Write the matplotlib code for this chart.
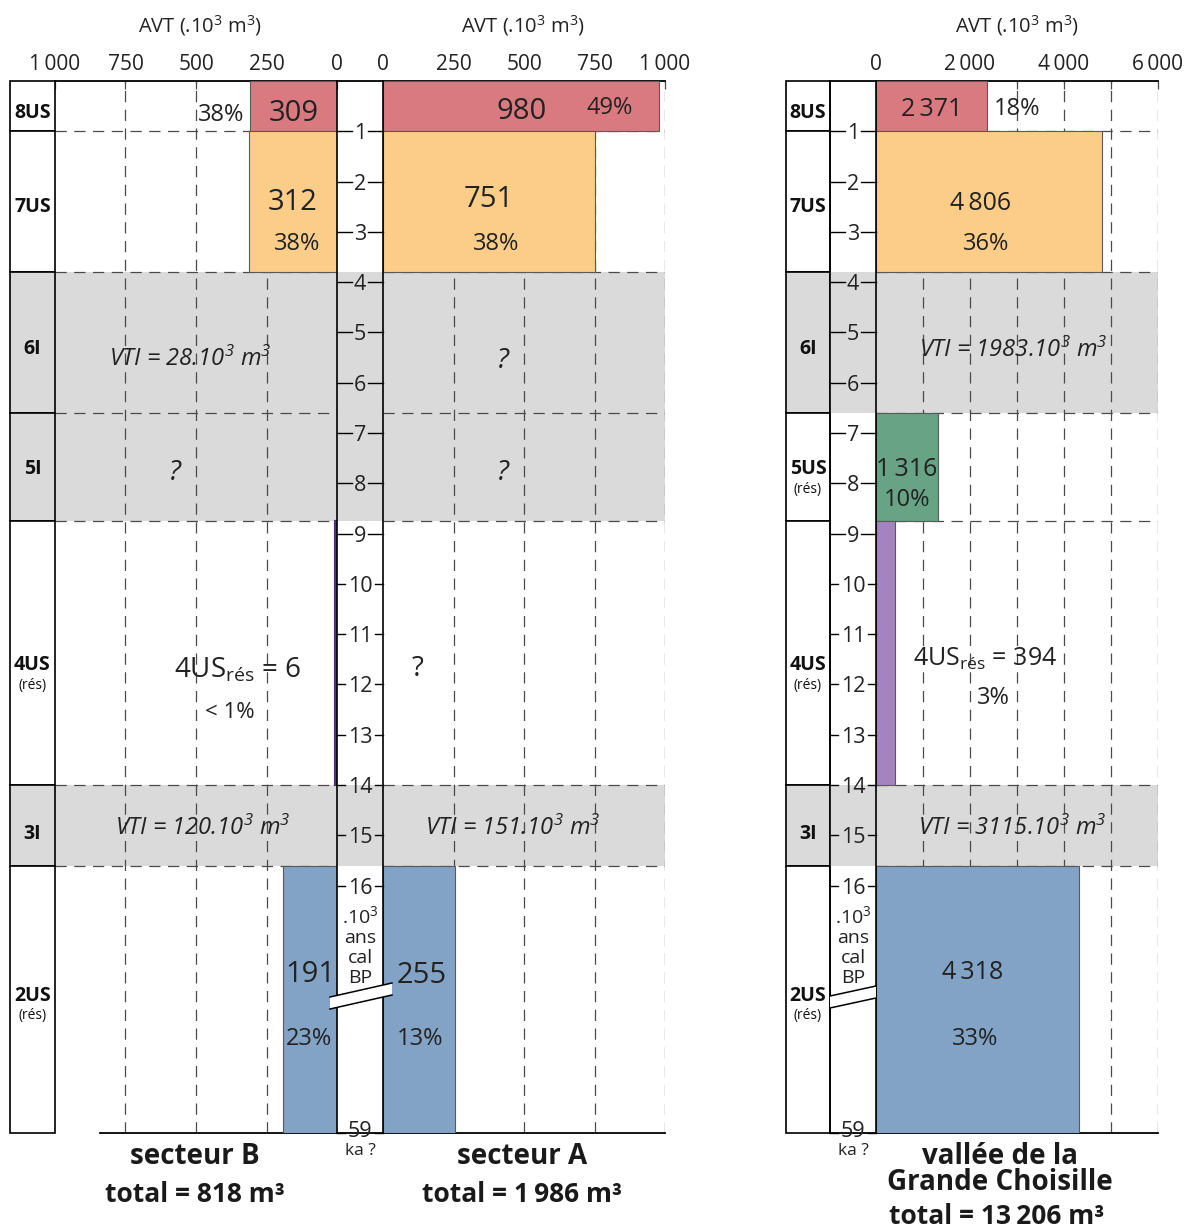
import matplotlib
matplotlib.use('Agg')
import matplotlib.pyplot as plt
from matplotlib.patches import Rectangle, Polygon

FONT = ['Open Sans', 'DejaVu Sans']
NARROW = ['Liberation Sans Narrow', 'Open Sans', 'DejaVu Sans']
plt.rcParams['font.family'] = FONT
plt.rcParams['mathtext.fontset'] = 'custom'
plt.rcParams['mathtext.rm'] = 'Open Sans'
plt.rcParams['mathtext.it'] = 'Open Sans:italic'
plt.rcParams['mathtext.bf'] = 'Open Sans:bold'
plt.rcParams['mathtext.default'] = 'regular'

# ------------------------------------------------------------------ data
layer_bounds_ka = [0, 1, 3.8, 6.6, 8.75, 14, 15.6, 59]
layers_left = ['8US', '7US', '6I', '5I', '4US', '3I', '2US']
layers_right = ['8US', '7US', '6I', '5US', '4US', '3I', '2US']
notes_left = ['', '', '', '', '(rés)', '', '(rés)']
notes_right = ['', '', '', '(rés)', '(rés)', '', '(rés)']
interglacial_left = [False, False, True, True, False, True, False]
interglacial_right = [False, False, True, False, False, True, False]

secteurB_avt = [309, 312, None, None, 6, None, 191]
secteurA_avt = [980, 751, None, None, None, None, 255]
vallee_avt = [2371, 4806, None, 1316, 394, None, 4318]
secteurB_pct = ['38%', '38%', None, None, '< 1%', None, '23%']
secteurA_pct = ['49%', '38%', None, None, None, None, '13%']
vallee_pct = ['18%', '36%', None, '10%', '3%', None, '33%']
secteurB_vti = [None, None, 28, '?', None, 120, None]
secteurA_vti = [None, None, '?', '?', None, 151, None]
vallee_vti = [None, None, 1983, None, None, 3115, None]
total_B, total_A, total_V = 818, 1986, 13206

time_ticks = list(range(1, 17))
time_bottom = 59
secteur_ticks = [0, 250, 500, 750, 1000]
secteur_ticklabels = ['0', '250', '500', '750', '1\u2009000']
vallee_ticks = [0, 1000, 2000, 3000, 4000, 5000, 6000]
vallee_ticklabels = ['0', '', '2\u2009000', '', '4\u2009000', '', '6\u2009000']

# ------------------------------------------------------------------ style
GRAY = '#dadada'
DASHC = '#4a4a4a'
DASH = (0, (9, 6))
EDGE = '#5a5a5a'
COL = {'8US': '#d97a81', '7US': '#fccd88', '5US': '#67a384',
       '4US': '#a384c0', '2US': '#82a3c5'}
COL_B4US = '#5b2c86'
TXT = '#222222'

W, H = 1188, 1232
TOP, BOT = 81, 1133
TS = 50.29
YMAX = (BOT - TOP) / TS


def pos(ka):
    if ka <= 16:
        return ka
    return 16 + (ka - 16) * (YMAX - 16) / (59 - 16)


def ty(ypx):
    return (ypx - TOP) / TS


def fmt(v):
    return f'{v:,}'.replace(',', '\u2009')


def vti(v):
    return f'VTI = {v}.10$^3$ m$^3$'


fig = plt.figure(figsize=(W / 100, H / 100), dpi=100)


def make_ax(x0, x1):
    ax = fig.add_axes([x0 / W, 1 - BOT / H, (x1 - x0) / W, (BOT - TOP) / H])
    ax.set_ylim(YMAX, 0)
    ax.set_yticks([])
    for s in ax.spines.values():
        s.set_visible(False)
    ax.patch.set_visible(False)
    return ax


def draw_panel(ax, xlim, gridx, avt, inter, names, ticks, ticklabels,
               special=None, bottom_bounds=None):
    ax.set_xlim(*xlim)
    b = layer_bounds_ka
    for i in range(len(names)):
        if inter[i]:
            ax.axhspan(pos(b[i]), pos(b[i + 1]), fc=GRAY, lw=0, zorder=0)
    for g in gridx:
        ax.axvline(g, color=DASHC, lw=0.9, ls=DASH, zorder=1)
    for bb in b[1:-1]:
        ax.axhline(pos(bb), color=DASHC, lw=0.9, ls=DASH, zorder=1)
    for i, v in enumerate(avt):
        if v:
            c = COL[names[i]]
            ec, lw = EDGE, 0.8
            if special and names[i] in special:
                c = special[names[i]]
                ec, lw = c, 1.6
            ax.barh(pos(b[i]), v, height=pos(b[i + 1]) - pos(b[i]), left=0,
                    align='edge', color=c, edgecolor=ec, lw=lw, zorder=3)
    ax.spines['top'].set_visible(True)
    ax.spines['top'].set_linewidth(1.3)
    ax.spines['bottom'].set_visible(True)
    ax.spines['bottom'].set_linewidth(1.3)
    if bottom_bounds:
        ax.spines['bottom'].set_bounds(*bottom_bounds)
    ax.xaxis.set_ticks_position('top')
    ax.set_xticks(ticks)
    ax.set_xticklabels(ticklabels)
    ax.tick_params(axis='x', direction='in', length=6, width=0.9,
                   color=DASHC, labelsize=15, pad=4.5, labelcolor=TXT)


def label(ax, x, ypx, s, size, style='normal', **kw):
    ax.text(x, ty(ypx), s, fontsize=size, style=style, ha='center',
            va='center_baseline', zorder=5, color=TXT, **kw)


# ------------------------------------------------------------------ panels
axB = make_ax(55, 337)
draw_panel(axB, (1000, 0), [250, 500, 750], secteurB_avt, interglacial_left,
           layers_left, secteur_ticks, secteur_ticklabels,
           special={'4US': COL_B4US}, bottom_bounds=(0, 840))
axA = make_ax(383, 665)
draw_panel(axA, (0, 1000), [250, 500, 750, 1000], secteurA_avt,
           interglacial_left, layers_left, secteur_ticks, secteur_ticklabels)
axV = make_ax(876, 1158)
draw_panel(axV, (0, 6000), [1000, 2000, 3000, 4000, 5000, 6000], vallee_avt,
           interglacial_right, layers_right, vallee_ticks, vallee_ticklabels)

sub = '4US$_{rés}$ = '
# secteur B texts
label(axB, secteurB_avt[0] / 2, 110, fmt(secteurB_avt[0]), 21)
label(axB, 411, 112, secteurB_pct[0], 17)
label(axB, secteurB_avt[1] / 2, 199, fmt(secteurB_avt[1]), 21)
label(axB, 142, 241, secteurB_pct[1], 17)
label(axB, 521, 356, vti(secteurB_vti[2]), 17, 'italic')
label(axB, 574, 470, secteurB_vti[3], 20, 'italic')
label(axB, 351, 667, sub + fmt(secteurB_avt[4]), 20)
label(axB, 379, 710, secteurB_pct[4], 16)
label(axB, 475, 825, vti(secteurB_vti[5]), 17, 'italic')
label(axB, secteurB_avt[6] / 2, 971, fmt(secteurB_avt[6]), 21)
label(axB, 99, 1036, secteurB_pct[6], 17)
# secteur A texts
label(axA, secteurA_avt[0] / 2, 108, fmt(secteurA_avt[0]), 21)
label(axA, 805, 105, secteurA_pct[0], 17)
label(axA, secteurA_avt[1] / 2, 196, fmt(secteurA_avt[1]), 21)
label(axA, 400, 241, secteurA_pct[1], 17)
label(axA, 426, 358, secteurA_vti[2], 20, 'italic')
label(axA, 426, 470, secteurA_vti[3], 20, 'italic')
label(axA, 124, 665, '?', 20)
label(axA, 461, 825, vti(secteurA_vti[5]), 17, 'italic')
label(axA, 138, 972, fmt(secteurA_avt[6]), 21)
label(axA, 131, 1036, secteurA_pct[6], 17)
# vallee texts
label(axV, vallee_avt[0] / 2, 106, fmt(vallee_avt[0]), 18)
label(axV, 3000, 106, vallee_pct[0], 17)
label(axV, 2234, 201, fmt(vallee_avt[1]), 18)
label(axV, 2340, 241, vallee_pct[1], 17)
label(axV, 2915, 347, vti(vallee_vti[2]), 17, 'italic')
label(axV, vallee_avt[3] / 2, 466, fmt(vallee_avt[3]), 18)
label(axV, vallee_avt[3] / 2, 497, vallee_pct[3], 17)
label(axV, 2319, 656, sub + fmt(vallee_avt[4]), 18)
label(axV, 2489, 695, vallee_pct[4], 17)
label(axV, 2894, 825, vti(vallee_vti[5]), 17, 'italic')
label(axV, 2064, 969, fmt(vallee_avt[6]), 18)
label(axV, 2106, 1036, vallee_pct[6], 17)


# ------------------------------------------------------------------ label columns
def label_col(x0, x1, names, notes, inter, ypos):
    ax = make_ax(x0, x1)
    ax.set_xlim(0, 1)
    ax.set_xticks([])
    b = layer_bounds_ka
    for i, n in enumerate(names):
        y0, y1 = pos(b[i]), pos(b[i + 1])
        ax.add_patch(Rectangle((0, y0), 1, y1 - y0, fc=GRAY if inter[i] else 'white',
                               ec='black', lw=1.2, clip_on=False, zorder=1))
        ya, yb = ypos[i]
        ax.text(0.5, ty(ya), n, fontsize=14, weight='bold', ha='center',
                va='center_baseline', zorder=3, color='#111111')
        if notes[i]:
            ax.text(0.5, ty(yb), notes[i], fontsize=10, ha='center',
                    va='center_baseline', zorder=3, color='#111111')
    return ax


ylab = [(110, None), (204, None), (347, None), (467, 488), (662, 683),
        (831, None), (993, 1013)]
label_col(10, 55, layers_left, notes_left, interglacial_left, ylab)
label_col(786, 830, layers_right, notes_right, interglacial_right, ylab)


# ------------------------------------------------------------------ time columns
def time_col(x0, x1, inter):
    ax = make_ax(x0, x1)
    ax.set_xlim(0, 1)
    ax.set_xticks([])
    b = layer_bounds_ka
    for i in range(len(inter)):
        if inter[i]:
            ax.axhspan(pos(b[i]), pos(b[i + 1]), fc=GRAY, lw=0, zorder=0)
    for xx in (0, 1):
        ax.plot([xx, xx], [0, YMAX], color='black', lw=1.2, zorder=2,
                clip_on=False)
    ax.plot([0, 1], [0, 0], color='black', lw=1.3, clip_on=False)
    ax.plot([0, 1], [YMAX, YMAX], color='black', lw=1.3, clip_on=False)
    w = x1 - x0
    for k in time_ticks + [time_bottom]:
        yk = pos(k)
        tl = (15 if k < 10 else 8) / w
        ax.plot([0, tl], [yk, yk], color='black', lw=1.0, clip_on=False)
        ax.plot([1 - tl, 1], [yk, yk], color='black', lw=1.0, clip_on=False)
        dy = -0.08 if k == time_bottom else 0
        ax.text(0.5, yk + dy, str(k), fontsize=15.5, ha='center',
                va='center_baseline', color=TXT, zorder=3)
    for s, yp in (('.10$^3$', 914), ('ans', 936), ('cal', 956), ('BP', 976)):
        ax.text(0.5, ty(yp), s, fontsize=14, ha='center',
                va='center_baseline', color=TXT, zorder=3)
    ax.text(0.5, ty(1149), 'ka ?', fontsize=12.5, ha='center',
            va='center_baseline', color=TXT, clip_on=False)
    return ax


time_col(337, 383, interglacial_left)
time_col(830, 876, interglacial_right)

# ------------------------------------------------------------------ overlay
ov = fig.add_axes([0, 0, 1, 1])
ov.set_xlim(0, W)
ov.set_ylim(H, 0)
ov.axis('off')

for (xa, xb, ya1, yb1, gap) in ((330, 392, 997, 983, 12), (830, 876, 996, 986, 12)):
    ov.add_patch(Polygon([(xa, ya1), (xb, yb1), (xb, yb1 + gap), (xa, ya1 + gap)],
                         closed=True, fc='white', ec='none', zorder=5))
    ov.plot([xa, xb], [ya1, yb1], color='black', lw=1.1, zorder=6)
    ov.plot([xa, xb], [ya1 + gap, yb1 + gap], color='black', lw=1.1, zorder=6)

for xc in (200, 523, 1017):
    ov.text(xc, 26, 'AVT (.10$^3$ m$^3$)', fontsize=14.5, ha='center',
            va='center', color=TXT)

ov.text(195, 1157, 'secteur B', family=NARROW, weight='bold', fontsize=20,
        ha='center', va='center', color='#1a1a1a')
ov.text(195, 1194, f'total = {fmt(total_B)} m³', family=NARROW, weight='bold',
        fontsize=19, ha='center', va='center', color='#1a1a1a')
ov.text(522, 1157, 'secteur A', family=NARROW, weight='bold', fontsize=20,
        ha='center', va='center', color='#1a1a1a')
ov.text(522, 1194, f'total = {fmt(total_A)} m³', family=NARROW, weight='bold',
        fontsize=19, ha='center', va='center', color='#1a1a1a')
ov.text(1000, 1156, 'vallée de la', weight='bold', fontsize=20,
        ha='center', va='center', color='#1a1a1a')
ov.text(1000, 1183, 'Grande Choisille', weight='bold', fontsize=20,
        ha='center', va='center', color='#1a1a1a')
ov.text(997, 1217, f'total = {fmt(total_V)} m³', weight='bold', fontsize=19,
        ha='center', va='center', color='#1a1a1a')

fig.savefig('out.png', dpi=100, facecolor='white')
